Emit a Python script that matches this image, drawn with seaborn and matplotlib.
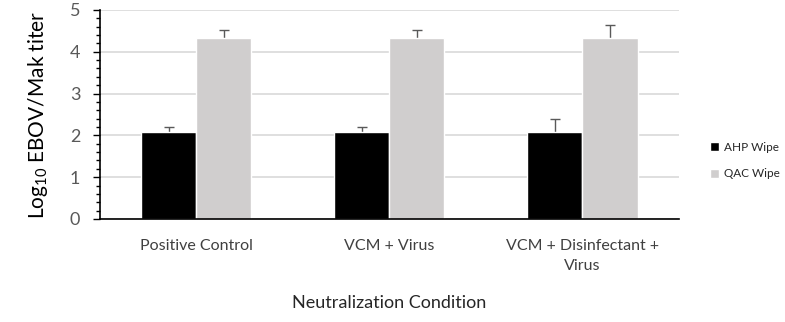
import pandas as pd
import seaborn as sns
import matplotlib.pyplot as plt
from matplotlib.ticker import MultipleLocator

# Values
conditions = ['Positive Control', 'VCM + Virus', 'VCM + Disinfectant +\nVirus']
wipes = ['AHP Wipe', 'QAC Wipe']
ahp_mean = [2.08, 2.08, 2.08]
ahp_err = [0.11, 0.11, 0.30]
qac_mean = [4.33, 4.33, 4.33]
qac_err = [0.20, 0.20, 0.30]

data = pd.DataFrame({
    'condition': conditions * 2,
    'wipe': [wipes[0]] * 3 + [wipes[1]] * 3,
    'titer': ahp_mean + qac_mean,
    'err': ahp_err + qac_err,
})

sns.set_style('white')
plt.rcParams['font.family'] = ['Lato', 'DejaVu Sans']

fig = plt.figure(figsize=(7.85, 3.22), dpi=100)
ax = fig.add_axes([0.127, 0.32, 0.738, 0.649])

palette = {'AHP Wipe': '#000000', 'QAC Wipe': '#d0cece'}
sns.barplot(data=data, x='condition', y='titer', hue='wipe', order=conditions,
            hue_order=wipes, palette=palette, width=0.57, errorbar=None,
            saturation=1, ax=ax, zorder=2)

# error bars drawn behind the bars so only the upper half shows
for container, wipe in zip(ax.containers, wipes):
    sub = data[data['wipe'] == wipe].set_index('condition').loc[conditions]
    xs = [b.get_x() + b.get_width() / 2 for b in container]
    ax.errorbar(xs, sub['titer'].values, yerr=sub['err'].values, fmt='none',
                ecolor='#595959', elinewidth=1, capsize=3.5, capthick=1, zorder=1.5)

ax.set_xlim(-0.5, 2.5)
ax.set_ylim(0, 5)
ax.yaxis.set_major_locator(MultipleLocator(1))
ax.yaxis.set_minor_locator(MultipleLocator(0.2))
ax.grid(axis='y', color='#d9d9d9', linewidth=1.2, zorder=0)
ax.set_axisbelow(True)

for side in ['top', 'right']:
    ax.spines[side].set_visible(False)
ax.spines['left'].set_color('black')
ax.spines['bottom'].set_color('black')
ax.spines['left'].set_linewidth(1.2)
ax.spines['bottom'].set_linewidth(1.2)

ax.tick_params(axis='y', which='major', left=True, length=5, width=1,
               color='black', labelsize=13, labelcolor='#595959', pad=9)
ax.tick_params(axis='y', which='minor', left=True, length=3, width=1, color='black')
ax.tick_params(axis='x', bottom=False, labelsize=11.5, labelcolor='#404040', pad=11)
for lbl in ax.get_xticklabels():
    lbl.set_linespacing(1.5)

ax.set_xlabel('Neutralization Condition', fontsize=13, color='#262626', labelpad=16)
ax.set_ylabel(r'$\mathregular{Log_{10}}$ EBOV/Mak titer', fontsize=15, color='black', labelpad=14)

leg = ax.legend(loc='center left', bbox_to_anchor=(1.035, 0.28), frameon=False,
                fontsize=8.5, handlelength=0.8, handleheight=0.8,
                handletextpad=0.4, labelspacing=1.3, labelcolor='#262626')

plt.savefig('out.png', dpi=100)
